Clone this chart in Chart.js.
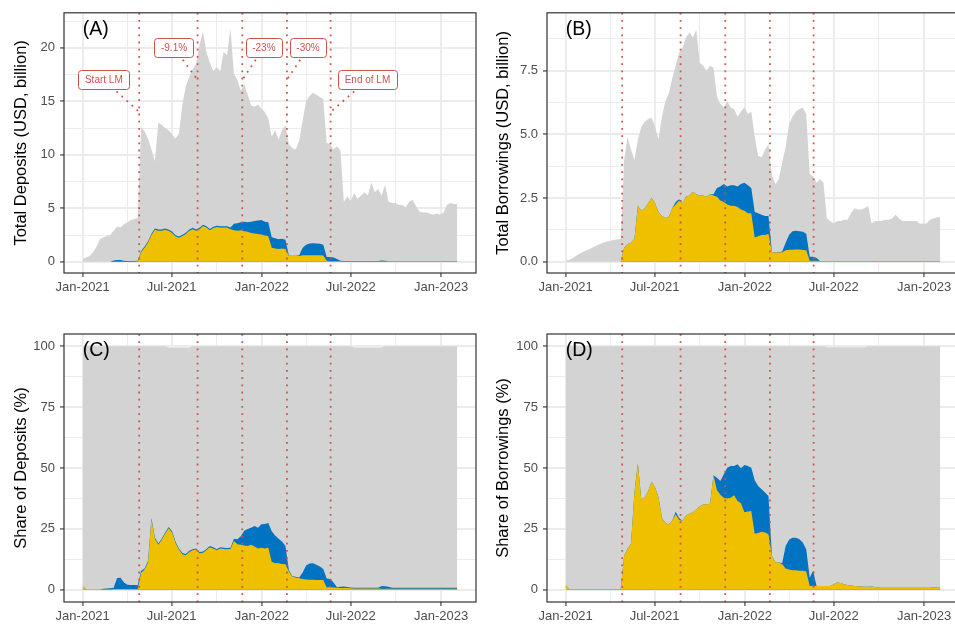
<!DOCTYPE html>
<html lang="en">
<head>
    <meta charset="UTF-8">
    <title>Deposits and Borrowings during Liquidity Mining</title>
    <script src="https://cdn.jsdelivr.net/npm/chart.js@4.4.0/dist/chart.umd.min.js"></script>
    <style>
        html, body { margin: 0; padding: 0; background: #fff; overflow: hidden; }
        body { width: 955px; height: 628px; position: relative; }
        canvas { position: absolute; display: block; }
        #chartA { left: 0; top: 0; }
        #chartB { left: 480px; top: 0; }
        #chartC { left: 0; top: 315px; }
        #chartD { left: 480px; top: 315px; }
    </style>
</head>
<body>
    <canvas id="chartA" width="480" height="310"></canvas>
    <canvas id="chartB" width="480" height="310"></canvas>
    <canvas id="chartC" width="480" height="313"></canvas>
    <canvas id="chartD" width="480" height="313"></canvas>

    <script>
        // days since 2021-01-01
        const days = [
            0, 7, 14, 21, 28, 35, 42, 49, 56, 63,
            70, 77, 84, 91, 98, 105, 112, 119, 126, 133,
            140, 147, 154, 161, 168, 175, 182, 189, 196, 203,
            210, 217, 224, 231, 238, 245, 252, 259, 266, 273,
            280, 287, 294, 301, 308, 315, 322, 329, 336, 343,
            350, 357, 364, 371, 378, 385, 392, 399, 406, 413,
            420, 427, 434, 441, 448, 455, 462, 469, 476, 483,
            490, 497, 504, 511, 518, 525, 532, 539, 546, 553,
            560, 567, 574, 581, 588, 595, 602, 609, 616, 623,
            630, 637, 644, 651, 658, 665, 672, 679, 686, 693,
            700, 707, 714, 721, 728, 735, 742, 749, 756, 763
        ];

        // Total deposits, USD billion (grey = all, blue = top of blue band, yellow)
        const depTotal = [
            0.25, 0.4, 0.55, 0.9, 1.4, 2.1, 2.3, 2.4, 2.5, 2.9,
            3.3, 3.2, 3.5, 3.7, 3.9, 4.0, 4.1, 12.6, 12.2, 11.5,
            10.5, 9.4, 13.0, 12.8, 12.5, 12.3, 11.9, 11.5, 12.0, 14.7,
            16.4, 17.3, 18.0, 18.5, 20.3, 21.5, 19.6, 18.6, 17.8, 18.2,
            17.8, 19.6, 19.3, 21.8, 17.6, 17.0, 16.0, 16.6, 15.6, 14.6,
            14.5, 14.7, 14.3, 14.0, 13.4, 11.7, 12.3, 11.4, 12.3, 12.8,
            11.0, 10.6, 10.5, 11.3, 13.2, 15.0, 15.5, 15.8, 15.6, 15.4,
            15.2, 11.1, 11.0, 10.5, 10.8, 10.4, 5.6, 6.1, 5.7, 6.4,
            5.9, 6.2, 6.5, 6.2, 7.4, 6.5, 6.8, 6.2, 7.2, 5.6,
            5.5, 5.5, 5.3, 5.3, 5.1, 5.6, 5.8, 5.2, 4.7, 4.6,
            4.6, 4.5, 4.4, 4.5, 4.4, 4.6, 5.3, 5.5, 5.4, 5.4
        ];
        const depBlueTop = [
            0, 0, 0, 0, 0, 0, 0, 0, 0, 0.12,
            0.17, 0.17, 0.1, 0.08, 0.08, 0.08, 0.1, 1.0, 1.42, 1.92,
            2.62, 3.12, 3.02, 3.02, 3.12, 3.02, 2.82, 2.47, 2.37, 2.52,
            2.72, 3.02, 3.17, 3.02, 3.17, 3.47, 3.32, 3.07, 3.27, 3.37,
            3.32, 3.32, 3.32, 3.2, 3.55, 3.6, 3.7, 3.75, 3.7, 3.75,
            3.8, 3.85, 3.9, 3.75, 3.7, 2.3, 2.2, 2.1, 2.15, 2.05,
            0.57, 0.57, 0.57, 0.6, 1.3, 1.6, 1.7, 1.72, 1.7, 1.68,
            1.6, 0.45, 0.45, 0.4, 0.25, 0.1, 0.06, 0.06, 0.06, 0.06,
            0.06, 0.06, 0.06, 0.06, 0.06, 0.06, 0.06, 0.12, 0.1, 0.05,
            0.05, 0.05, 0.05, 0.05, 0.05, 0.05, 0.05, 0.05, 0.05, 0.05,
            0.05, 0.05, 0.05, 0.05, 0.05, 0.05, 0.05, 0.05, 0.05, 0.05
        ];
        const depYellow = [
            0, 0, 0, 0, 0, 0, 0, 0, 0, 0,
            0, 0, 0, 0, 0, 0, 0.05, 0.9, 1.3, 1.8,
            2.5, 3.0, 2.9, 2.9, 3.0, 2.9, 2.7, 2.35, 2.25, 2.4,
            2.6, 2.9, 3.05, 2.9, 3.05, 3.35, 3.2, 2.95, 3.15, 3.25,
            3.2, 3.2, 3.2, 3.05, 2.95, 2.9, 2.95, 2.85, 2.8, 2.7,
            2.65, 2.6, 2.55, 2.45, 2.4, 1.3, 1.25, 1.2, 1.25, 1.2,
            0.55, 0.55, 0.55, 0.55, 0.6, 0.6, 0.6, 0.62, 0.6, 0.6,
            0.58, 0.1, 0.05, 0.05, 0.04, 0.04, 0.03, 0.03, 0.03, 0.03,
            0.03, 0.03, 0.03, 0.03, 0.03, 0.03, 0.03, 0.03, 0.03, 0.03,
            0.03, 0.03, 0.03, 0.03, 0.03, 0.03, 0.03, 0.03, 0.03, 0.03,
            0.03, 0.03, 0.03, 0.03, 0.03, 0.03, 0.03, 0.03, 0.03, 0.03
        ];

        // Total borrowings, USD billion
        const borTotal = [
            0.04, 0.08, 0.14, 0.24, 0.32, 0.38, 0.44, 0.5, 0.57, 0.64,
            0.7, 0.76, 0.8, 0.83, 0.85, 0.87, 0.9, 4.0, 4.9, 4.4,
            4.0, 4.8, 5.3, 5.5, 5.6, 5.65, 5.3, 4.8, 5.7, 6.3,
            6.6, 7.2, 7.7, 8.2, 8.4, 8.8, 9.0, 8.8, 9.1, 7.8,
            7.7, 7.5, 7.7, 7.6, 6.5, 6.2, 6.05, 6.3, 6.05, 6.0,
            5.7, 5.9, 6.05, 5.8, 5.9, 4.9, 4.15, 4.1, 4.4, 4.6,
            3.4, 3.05, 3.25, 3.9, 4.5, 5.4, 5.7, 5.9, 6.0, 6.05,
            5.8, 3.45, 3.35, 3.1, 3.25, 3.1, 1.7, 1.6, 1.5, 1.6,
            1.6, 1.65, 1.65, 1.9, 2.1, 2.05, 2.05, 2.1, 2.2, 1.5,
            1.6, 1.6, 1.6, 1.65, 1.65, 1.7, 1.85, 1.7, 1.6, 1.6,
            1.6, 1.6, 1.6, 1.5, 1.5, 1.5, 1.65, 1.7, 1.75, 1.75
        ];
        const borBlueTop = [
            0, 0, 0, 0, 0, 0, 0, 0, 0, 0,
            0, 0, 0, 0, 0, 0, 0, 0.55, 0.7, 0.75,
            0.9, 2.2, 2.0, 2.1, 2.3, 2.5, 2.3, 1.95, 1.8, 1.72,
            1.78, 2.1, 2.35, 2.45, 2.3, 2.55, 2.6, 2.75, 2.65, 2.6,
            2.6, 2.55, 2.65, 2.65, 2.9, 2.95, 3.05, 2.95, 3.0, 3.0,
            2.95, 3.05, 3.1, 3.0, 2.9, 1.95, 1.9, 1.85, 1.8, 1.8,
            0.38, 0.37, 0.37, 0.4, 0.75, 1.05, 1.2, 1.22, 1.2, 1.18,
            1.1, 0.2, 0.2, 0.15, 0.03, 0.03, 0.03, 0.03, 0.03, 0.03,
            0.03, 0.03, 0.03, 0.03, 0.03, 0.03, 0.03, 0.03, 0.03, 0.03,
            0.02, 0.02, 0.02, 0.02, 0.02, 0.02, 0.02, 0.02, 0.02, 0.02,
            0.02, 0.02, 0.02, 0.02, 0.02, 0.02, 0.02, 0.02, 0.02, 0.02
        ];
        const borYellow = [
            0, 0, 0, 0, 0, 0, 0, 0, 0, 0,
            0, 0, 0, 0, 0, 0, 0, 0.55, 0.7, 0.75,
            0.9, 2.2, 2.0, 2.1, 2.3, 2.5, 2.3, 1.95, 1.8, 1.72,
            1.78, 2.1, 2.25, 2.4, 2.3, 2.55, 2.6, 2.75, 2.65, 2.6,
            2.6, 2.55, 2.65, 2.6, 2.55, 2.4, 2.35, 2.25, 2.2, 2.2,
            2.15, 2.05, 2.0, 1.9, 1.9, 0.95, 1.0, 1.05, 1.05, 1.1,
            0.38, 0.36, 0.36, 0.37, 0.45, 0.47, 0.47, 0.48, 0.48, 0.46,
            0.45, 0.04, 0.04, 0.04, 0.03, 0.03, 0.03, 0.03, 0.03, 0.03,
            0.03, 0.03, 0.03, 0.03, 0.03, 0.03, 0.03, 0.03, 0.03, 0.03,
            0.02, 0.02, 0.02, 0.02, 0.02, 0.02, 0.02, 0.02, 0.02, 0.02,
            0.02, 0.02, 0.02, 0.02, 0.02, 0.02, 0.02, 0.02, 0.02, 0.02
        ];

        // Share of deposits, %
        const depShareDays = [0, 168, 175, 217, 224, 546, 553, 609, 616, 763];
        const depShareTotal = [100, 100, 99.5, 99.5, 100, 100, 99.5, 99.5, 100, 100];
        const depShareBlueTop = [
            1.6, 0.1, 0.1, 0.1, 0.1, 0.1, 0.4, 0.5, 0.6, 0.8,
            4.8, 5.0, 3.0, 2.1, 2.0, 2.0, 1.9, 7.8, 8.8, 11.8,
            29.5, 21.5, 19.0, 21.0, 23.5, 25.8, 24.0, 19.7, 17.0, 15.1,
            14.7, 16.0, 16.7, 17.0, 15.5, 15.7, 16.8, 18.0, 17.5, 16.7,
            17.5, 17.3, 17.2, 17.3, 21.0, 20.8, 22.0, 24.2, 25.0, 25.5,
            26.2, 25.5, 26.9, 27.0, 27.4, 24.0, 22.3, 21.0, 19.8, 18.0,
            8.0, 5.6, 5.4, 5.1, 7.1, 10.0, 10.8, 10.9, 10.3, 9.6,
            8.5, 4.6, 4.4, 3.0, 1.1, 1.3, 1.4, 1.2, 1.0, 0.8,
            0.8, 0.8, 0.8, 0.8, 0.8, 0.8, 0.8, 1.6, 1.5, 1.3,
            0.9, 0.8, 0.8, 0.8, 0.8, 0.8, 0.8, 0.8, 0.8, 0.8,
            0.8, 0.8, 0.8, 0.8, 0.8, 0.8, 0.8, 0.8, 0.8, 0.8
        ];
        const depShareYellow = [
            1.6, 0.1, 0.1, 0.1, 0.1, 0.1, 0.1, 0.1, 0.1, 0.3,
            0.3, 0.3, 0.3, 0.3, 0.3, 0.3, 0.3, 7.0, 8.3, 11.2,
            29.0, 21.0, 18.5, 20.5, 23.0, 25.3, 23.5, 19.2, 16.5, 14.6,
            14.2, 15.5, 16.2, 16.5, 15.0, 15.2, 16.3, 17.5, 17.0, 16.2,
            17.0, 16.8, 16.7, 16.8, 20.0, 18.7, 18.5, 18.2, 18.0, 18.5,
            17.8, 17.0, 17.3, 17.0, 17.3, 11.5, 10.9, 10.9, 10.6, 10.5,
            7.5, 5.4, 5.1, 4.7, 4.4, 4.2, 4.1, 4.1, 4.0, 4.0,
            4.0, 1.0, 1.2, 1.0, 0.8, 0.75, 0.7, 0.7, 0.65, 0.55,
            0.55, 0.55, 0.55, 0.55, 0.55, 0.55, 0.55, 0.4, 0.4, 0.4,
            0.4, 0.4, 0.4, 0.4, 0.4, 0.4, 0.4, 0.4, 0.4, 0.4,
            0.4, 0.4, 0.4, 0.4, 0.4, 0.4, 0.4, 0.4, 0.4, 0.4
        ];

        // Share of borrowings, %
        const borShareDays = [0, 525, 532, 609, 616, 763];
        const borShareTotal = [100, 100, 99.6, 99.6, 100, 100];
        const borShareBlueTop = [
            2.0, 0.3, 0.3, 0.3, 0.3, 0.3, 0.3, 0.3, 0.3, 0.3,
            0.3, 0.3, 0.3, 0.3, 0.3, 0.3, 0.3, 14.0, 17.0, 19.0,
            40.0, 52.0, 37.0, 38.0, 40.5, 44.5, 42.0, 38.0, 29.5, 27.5,
            26.8, 28.5, 32.0, 29.5, 28.2, 30.5, 31.2, 31.8, 33.0, 34.3,
            35.0, 35.1, 35.3, 47.0, 46.0, 44.7, 47.4, 50.1, 50.8, 50.8,
            51.5, 49.9, 51.2, 50.8, 50.1, 45.0, 42.6, 41.3, 39.9, 38.5,
            14.0, 11.2, 11.2, 11.0, 18.0, 20.5, 21.4, 21.4, 20.8, 19.4,
            16.5, 5.0, 7.8, 1.6, 1.6, 1.6, 1.6, 1.6, 2.3, 3.0,
            2.8, 2.3, 2.0, 1.8, 1.6, 1.5, 1.4, 1.3, 1.3, 1.4,
            1.2, 1.0, 0.9, 0.8, 0.8, 0.8, 0.8, 0.8, 0.8, 0.8,
            0.8, 0.8, 0.8, 0.8, 0.8, 0.8, 0.9, 1.1, 1.0, 0.8
        ];
        const borShareYellow = [
            2.0, 0.3, 0.3, 0.3, 0.3, 0.3, 0.3, 0.3, 0.3, 0.3,
            0.3, 0.3, 0.3, 0.3, 0.3, 0.3, 0.3, 14.0, 17.0, 19.0,
            40.0, 52.0, 37.0, 38.0, 40.5, 44.5, 42.0, 38.0, 29.5, 27.5,
            26.8, 28.5, 31.0, 28.8, 28.2, 30.5, 31.2, 31.8, 33.0, 34.3,
            35.0, 35.1, 35.3, 47.0, 41.0, 39.0, 37.8, 37.5, 37.8, 38.8,
            36.5, 35.5, 31.8, 32.1, 32.4, 23.0, 23.3, 23.8, 23.5, 22.8,
            14.0, 11.2, 11.2, 10.5, 8.8, 8.3, 8.0, 8.0, 7.8, 7.8,
            7.5, 1.6, 1.7, 1.6, 1.6, 1.6, 1.6, 1.6, 2.3, 3.0,
            2.8, 2.3, 2.0, 1.8, 1.6, 1.5, 1.4, 1.3, 1.3, 1.4,
            1.2, 1.0, 0.9, 0.8, 0.8, 0.8, 0.8, 0.8, 0.8, 0.8,
            0.8, 0.8, 0.8, 0.8, 0.8, 0.8, 0.9, 1.1, 1.0, 0.8
        ];

        // event dates (vertical lines) and the callouts in panel A
        const eventDays = [115, 234, 325, 416, 505];
        const calloutText = ['Start LM', '-9.1%', '-23%', '-30%', 'End of LM'];
        const calloutPointY = [14, 17, 17, 17, 14];
        const calloutLabelDay = [43, 186, 369, 459, 580];
        const calloutLabelY = [17, 20, 20, 20, 17];

        const xTickDays = [0, 181, 365, 546, 730];
        const xTickLabels = ['Jan-2021', 'Jul-2021', 'Jan-2022', 'Jul-2022', 'Jan-2023'];

        const RED = '#CD534C';
        const BLUE = '#0073C2';
        const YELLOW = '#EFC000';
        const GREY = '#D3D3D3';
        const FONT = "'Liberation Sans', Arial, sans-serif";
        const X_MIN = -38.15, X_MAX = 801.15;

        function minorBetween(major, lo, hi) {
            const step = major[1] - major[0];
            const ext = [major[0] - step].concat(major, [major[major.length - 1] + step]);
            const out = [];
            for (let i = 0; i < ext.length - 1; i++) {
                const m = (ext[i] + ext[i + 1]) / 2;
                if (m > lo && m < hi) out.push(m);
            }
            return out;
        }

        function gridStyle(major) {
            const isMajor = c => c.tick && major.includes(c.tick.value);
            return {
                color: '#EBEBEB',
                lineWidth: c => isMajor(c) ? 1.9 : 0.95,
                tickLength: 4,
                tickWidth: 1.1,
                tickColor: c => isMajor(c) ? '#333333' : 'rgba(0,0,0,0)'
            };
        }

        const overlay = {
            id: 'overlay',
            afterDatasetsDraw(chart, args, o) {
                const { ctx, chartArea: a } = chart;
                const x = chart.scales.x, y = chart.scales.y;
                ctx.save();
                ctx.beginPath();
                ctx.rect(a.left, a.top, a.right - a.left, a.bottom - a.top);
                ctx.clip();

                ctx.strokeStyle = RED;
                ctx.lineWidth = 1.8;
                ctx.setLineDash([1.8, 5.4]);
                eventDays.forEach(d => {
                    const px = x.getPixelForValue(d);
                    ctx.beginPath();
                    ctx.moveTo(px, a.top);
                    ctx.lineTo(px, a.bottom);
                    ctx.stroke();
                });

                if (o.callouts) {
                    ctx.font = '10px ' + FONT;
                    ctx.textAlign = 'center';
                    ctx.textBaseline = 'middle';
                    calloutText.forEach((t, i) => {
                        const cx = x.getPixelForValue(calloutLabelDay[i]);
                        const cy = y.getPixelForValue(calloutLabelY[i]);
                        const tx = x.getPixelForValue(eventDays[i]);
                        const ty = y.getPixelForValue(calloutPointY[i]);
                        const w = ctx.measureText(t).width + 13, h = 19;
                        const dx = tx - cx, dy = ty - cy, len = Math.hypot(dx, dy);
                        const s = Math.min(Math.abs((w / 2) / dx), Math.abs((h / 2) / dy));
                        const sx = cx + dx * s + dx / len * 3, sy = cy + dy * s + dy / len * 3;

                        ctx.strokeStyle = RED;
                        ctx.lineWidth = 1.8;
                        ctx.setLineDash([1.8, 5]);
                        ctx.beginPath();
                        ctx.moveTo(sx, sy);
                        ctx.lineTo(tx, ty);
                        ctx.stroke();

                        ctx.setLineDash([]);
                        ctx.lineWidth = 1;
                        ctx.fillStyle = '#fff';
                        ctx.beginPath();
                        ctx.roundRect(Math.round(cx - w / 2) + 0.5, Math.round(cy - h / 2) + 0.5, Math.round(w), h, 3);
                        ctx.fill();
                        ctx.stroke();
                        ctx.fillStyle = RED;
                        ctx.fillText(t, cx, cy + 0.5);
                    });
                }

                ctx.fillStyle = '#000';
                ctx.font = '19.5px ' + FONT;
                ctx.textAlign = 'left';
                ctx.textBaseline = 'middle';
                ctx.fillText(o.tag, x.getPixelForValue(0), y.getPixelForValue(o.tagY));
                ctx.restore();
            },
            afterDraw(chart) {
                const { ctx, chartArea: a } = chart;
                ctx.save();
                ctx.strokeStyle = '#333333';
                ctx.lineWidth = 1.2;
                ctx.strokeRect(a.left, a.top, a.right - a.left, a.bottom - a.top);
                ctx.restore();
            }
        };

        function buildPanel(p) {
            const area = (xs, ys, color) => ({
                data: xs.map((d, i) => ({ x: d, y: ys[i] })),
                backgroundColor: color,
                borderColor: 'rgba(0,0,0,0)',
                borderWidth: 0,
                pointRadius: 0,
                fill: 'origin',
                tension: 0
            });
            const yMinor = minorBetween(p.yTicks, p.yMin, p.yMax);
            const xMinor = minorBetween(xTickDays, X_MIN, X_MAX);

            return new Chart(document.getElementById(p.id), {
                type: 'line',
                data: {
                    datasets: [
                        area(days, p.yellow, YELLOW),
                        area(days, p.blue, BLUE),
                        area(p.totalDays, p.total, GREY)
                    ]
                },
                options: {
                    responsive: false,
                    animation: false,
                    events: [],
                    parsing: false,
                    layout: { padding: { left: 0, right: p.padRight, top: p.padTop, bottom: 0 } },
                    plugins: {
                        legend: { display: false },
                        tooltip: { enabled: false },
                        overlay: { tag: p.tag, tagY: p.tagY, callouts: !!p.callouts }
                    },
                    scales: {
                        x: {
                            type: 'linear',
                            min: X_MIN,
                            max: X_MAX,
                            afterBuildTicks: s => {
                                s.ticks = xTickDays.concat(xMinor).sort((a, b) => a - b).map(v => ({ value: v }));
                            },
                            afterFit: s => { s.height = p.xHeight; },
                            ticks: {
                                autoSkip: false,
                                maxRotation: 0,
                                padding: 2.5,
                                color: '#4D4D4D',
                                font: { family: FONT, size: 13 },
                                callback: v => {
                                    const i = xTickDays.indexOf(v);
                                    return i < 0 ? '' : xTickLabels[i];
                                }
                            },
                            grid: gridStyle(xTickDays),
                            border: { display: false }
                        },
                        y: {
                            type: 'linear',
                            min: p.yMin,
                            max: p.yMax,
                            afterBuildTicks: s => {
                                s.ticks = p.yTicks.concat(yMinor).sort((a, b) => a - b).map(v => ({ value: v }));
                            },
                            afterFit: s => { s.width = p.yWidth; },
                            ticks: {
                                padding: 5,
                                color: '#4D4D4D',
                                font: { family: FONT, size: 13 },
                                callback: v => {
                                    const i = p.yTicks.indexOf(v);
                                    return i < 0 ? '' : p.yLabels[i];
                                }
                            },
                            grid: gridStyle(p.yTicks),
                            border: { display: false },
                            title: {
                                display: true,
                                text: p.title,
                                color: '#000',
                                font: { family: FONT, size: 16.5 },
                                padding: { top: p.titlePad, bottom: 0 }
                            }
                        }
                    }
                },
                plugins: [overlay]
            });
        }

        buildPanel({
            id: 'chartA', total: depTotal, totalDays: days, blue: depBlueTop, yellow: depYellow,
            yMin: -1.05, yMax: 23.27, yTicks: [0, 5, 10, 15, 20], yLabels: ['0', '5', '10', '15', '20'],
            title: 'Total Deposits (USD, billion)', tag: '(A)', tagY: 21.7, callouts: true,
            yWidth: 64, padTop: 6, padRight: 4, xHeight: 37, titlePad: 11.5
        });
        buildPanel({
            id: 'chartB', total: borTotal, totalDays: days, blue: borBlueTop, yellow: borYellow,
            yMin: -0.44, yMax: 9.77, yTicks: [0, 2.5, 5, 7.5], yLabels: ['0.0', '2.5', '5.0', '7.5'],
            title: 'Total Borrowings (USD, billion)', tag: '(B)', tagY: 9.1,
            yWidth: 67, padTop: 6, padRight: 1, xHeight: 37, titlePad: 14
        });
        buildPanel({
            id: 'chartC', total: depShareTotal, totalDays: depShareDays, blue: depShareBlueTop, yellow: depShareYellow,
            yMin: -5, yMax: 105, yTicks: [0, 25, 50, 75, 100], yLabels: ['0', '25', '50', '75', '100'],
            title: 'Share of Deposits (%)', tag: '(C)', tagY: 98,
            yWidth: 64, padTop: 19, padRight: 4, xHeight: 26, titlePad: 11.5
        });
        buildPanel({
            id: 'chartD', total: borShareTotal, totalDays: borShareDays, blue: borShareBlueTop, yellow: borShareYellow,
            yMin: -5, yMax: 105, yTicks: [0, 25, 50, 75, 100], yLabels: ['0', '25', '50', '75', '100'],
            title: 'Share of Borrowings (%)', tag: '(D)', tagY: 98,
            yWidth: 67, padTop: 19, padRight: 1, xHeight: 26, titlePad: 14
        });
    </script>
</body>
</html>
